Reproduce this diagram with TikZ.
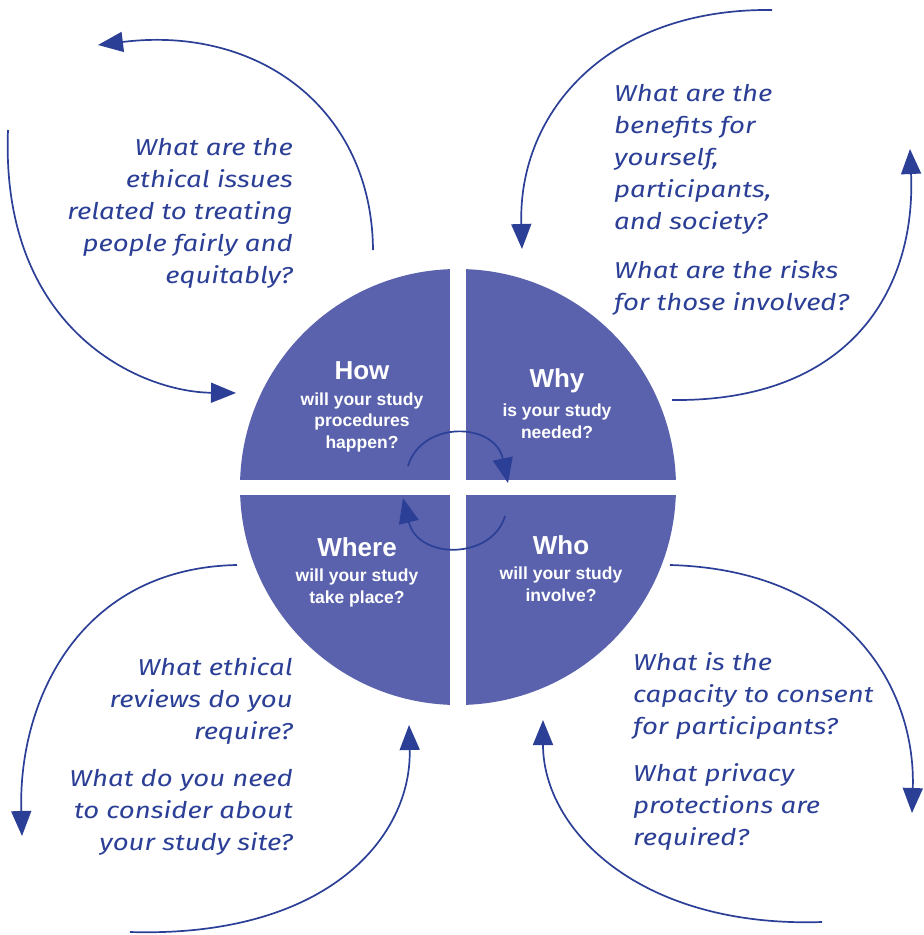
\documentclass[tikz,border=0pt]{standalone}
\usepackage{fontspec}
\setmainfont{Liberation Sans}
\newfontfamily\handfont[FakeStretch=1.2]{Fira Sans}
\usetikzlibrary{arrows.meta}
\definecolor{quadblue}{HTML}{5A62AD}
\definecolor{inkblue}{HTML}{2B3F96}
\begin{document}
\begin{tikzpicture}[x=1pt, y=-1pt,
    quadtitle/.style={text=white, font=\bfseries\fontsize{26}{30}\selectfont},
    quadtext/.style={text=white, align=center, font=\bfseries\fontsize{17.5}{21.5}\selectfont},
    hand/.style={text=inkblue, inner sep=0pt, font=\handfont\itshape\fontsize{23}{32}\selectfont},
    loop/.style={draw=inkblue, line width=1.7pt, -{Triangle[length=25pt,width=20pt]}}]
\useasboundingbox (0,0) rectangle (924,935);

% the four quadrants
\fill [quadblue] (458,487) circle [radius=218];
\fill [white] (450,255) rectangle (466,720);
\fill [white] (225,480) rectangle (691,495);

\node [quadtitle] (howtitle) at (362,371) {How};
\node [quadtext] (howtext) at (362,422) {will your study\\procedures\\happen?};
\node [quadtitle] (whytitle) at (557,381) {Why};
\node [quadtext] (whytext) at (557,421) {is your study\\needed?};
\node [quadtitle] (wheretitle) at (357,547) {Where};
\node [quadtext] (wheretext) at (357,588) {will your study\\take place?};
\node [quadtitle] (whotitle) at (561,545) {Who};
\node [quadtext] (whotext) at (561,584) {will your study\\involve?};

% the questions
\node [hand, align=right, anchor=east] (fair) at (293,213) {What are the\\ethical issues\\related to treating\\people fairly and\\equitably?};
\node [hand, align=left, anchor=west] (benefits) at (614,200) {What are the\\benefits for\\yourself,\\participants,\\and society?\\[17pt]What are the risks\\for those involved?};
\node [hand, align=right, anchor=east] (reviews) at (293,756) {What ethical\\reviews do you\\require?\\[15pt]What do you need\\to consider about\\your study site?};
\node [hand, align=left, anchor=west] (consent) at (633,752) {What is the\\capacity to consent\\for participants?\\[15pt]What privacy\\protections are\\required?};

% arrow ends
\coordinate (tlstart) at (373,250);
\coordinate (tlend) at (98,45);
\coordinate (lstart) at (8,130);
\coordinate (lend) at (236,393);
\coordinate (trstart) at (772,10);
\coordinate (trend) at (522,249);
\coordinate (rstart) at (672,400);
\coordinate (rend) at (910,149);
\coordinate (blstart) at (237,565);
\coordinate (blend) at (22,836);
\coordinate (bstart) at (130,932);
\coordinate (bend) at (409,725);
\coordinate (brstart) at (670,565);
\coordinate (brend) at (912,813);
\coordinate (bbstart) at (822,922);
\coordinate (bbend) at (543,720);
\coordinate (ctstart) at (408,466);
\coordinate (ctend) at (508,483);
\coordinate (cbstart) at (505,516);
\coordinate (cbend) at (403,498);

\draw [loop] (tlstart) .. controls (372,110) and (260,25) .. (tlend);
\draw [loop] (lstart) .. controls (0,330) and (140,392) .. (lend);
\draw [loop] (trstart) .. controls (610,8) and (518,110) .. (trend);
\draw [loop] (rstart) .. controls (850,402) and (916,290) .. (rend);
\draw [loop] (blstart) .. controls (80,568) and (18,700) .. (blend);
\draw [loop] (bstart) .. controls (330,938) and (412,835) .. (bend);
\draw [loop] (brstart) .. controls (850,570) and (916,690) .. (brend);
\draw [loop] (bbstart) .. controls (640,928) and (543,830) .. (bbend);
\draw [loop] (ctstart) .. controls (422,420) and (495,422) .. (ctend);
\draw [loop] (cbstart) .. controls (492,560) and (418,560) .. (cbend);
\end{tikzpicture}
\end{document}
